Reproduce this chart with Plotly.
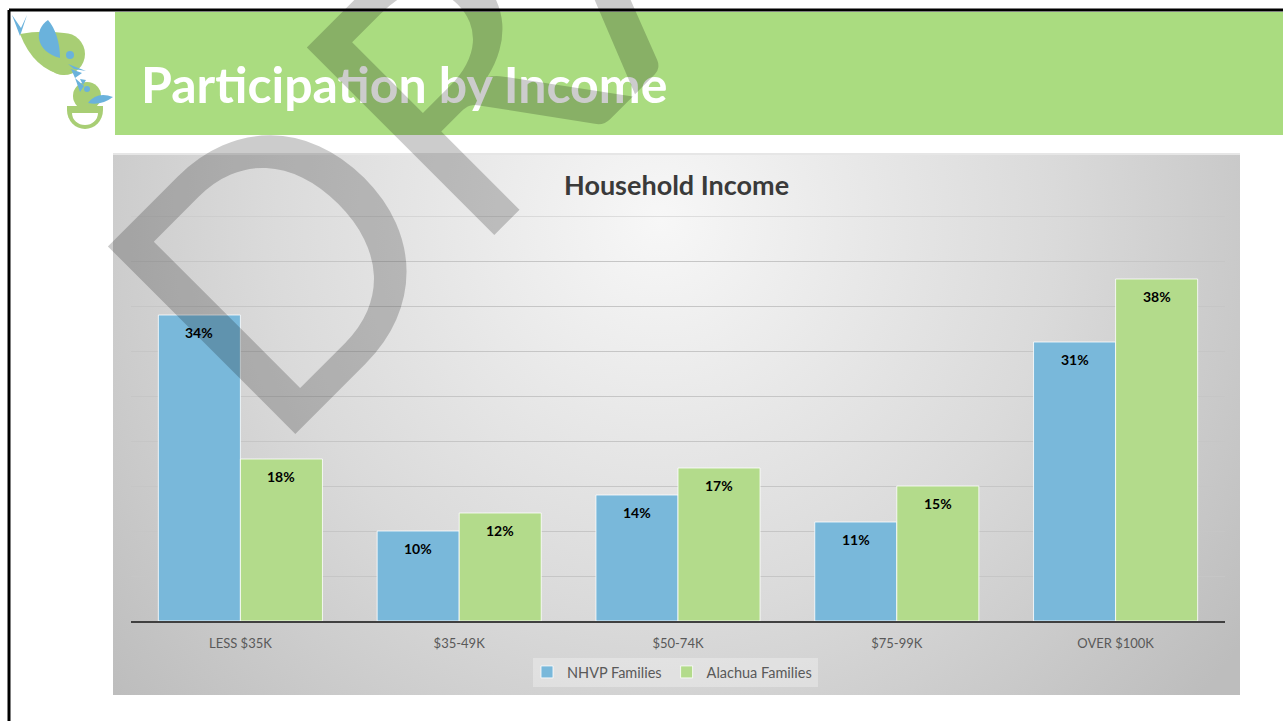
import base64
import plotly.graph_objects as go

# ---------------- data ----------------
categories = ["LESS $35K", "$35-49K", "$50-74K", "$75-99K", "OVER $100K"]
nhvp_values = [34, 10, 14, 11, 31]
alachua_values = [18, 12, 17, 15, 38]
nhvp_labels = ["34%", "10%", "14%", "11%", "31%"]
alachua_labels = ["18%", "12%", "17%", "15%", "38%"]
series_names = ["NHVP Families", "Alachua Families"]

# ---------------- geometry ----------------
W, H = 1283, 721
L, R, T, B = 131, 58, 216, 100
PW, PH = W - L - R, H - T - B
BASE_Y = H - B


def px(xp, yp):
    return (xp - L) / PW, (BASE_Y - yp) / PH


BLUE = "#79B8DA"
GREEN = "#B3DB8B"
FONT = "Lato"

fig = go.Figure()
fig.add_trace(go.Bar(x=categories, y=nhvp_values, name=series_names[0],
                     marker=dict(color=BLUE, line=dict(color="rgba(255,255,255,0.8)", width=1)),
                     hoverinfo="skip"))
fig.add_trace(go.Bar(x=categories, y=alachua_values, name=series_names[1],
                     marker=dict(color=GREEN, line=dict(color="rgba(255,255,255,0.8)", width=1)),
                     hoverinfo="skip"))

annotations = []
for i, c in enumerate(categories):
    annotations.append(dict(x=c, y=nhvp_values[i], xref="x", yref="y", text="<b>" + nhvp_labels[i] + "</b>",
                            showarrow=False, xshift=-41, yshift=-17, xanchor="center", yanchor="middle",
                            font=dict(family=FONT, size=14, color="#000000")))
    annotations.append(dict(x=c, y=alachua_values[i], xref="x", yref="y", text="<b>" + alachua_labels[i] + "</b>",
                            showarrow=False, xshift=41, yshift=-17, xanchor="center", yanchor="middle",
                            font=dict(family=FONT, size=14, color="#000000")))

# chart title
tx, ty = px(676, 184)
annotations.append(dict(x=tx, y=ty, xref="paper", yref="paper", text="<b>Household Income</b>",
                        showarrow=False, xanchor="center", yanchor="middle",
                        font=dict(family=FONT, size=27, color="#3A3A3A")))
# slide title
sx, sy = px(139, 84)
annotations.append(dict(x=sx, y=sy, xref="paper", yref="paper", text="<b>Participation by Income</b>",
                        showarrow=False, xanchor="left", yanchor="middle",
                        font=dict(family=FONT, size=50, color="#FFFFFF")))
# watermark
wx, wy = px(591, -64)
annotations.append(dict(x=wx, y=wy, xref="paper", yref="paper", text="DRAFT", textangle=-45,
                        showarrow=False, xanchor="center", yanchor="middle",
                        font=dict(family=FONT, size=370, color="rgba(0,0,0,0.2)")))

shapes = []
# header band
x0, y0 = px(115, 12)
x1, y1 = px(1283, 135)
shapes.append(dict(type="rect", xref="paper", yref="paper", x0=x0, y0=y0, x1=x1, y1=y1,
                   fillcolor="#AADC80", line=dict(width=0), layer="below"))
# legend background
x0, y0 = px(533, 658)
x1, y1 = px(818, 687)
shapes.append(dict(type="rect", xref="paper", yref="paper", x0=x0, y0=y0, x1=x1, y1=y1,
                   fillcolor="rgba(255,255,255,0.3)", line=dict(width=0), layer="below"))
# top gridline (45%)
shapes.append(dict(type="line", xref="paper", yref="y", x0=0, x1=1, y0=45, y1=45,
                   line=dict(color="#C6C6C6", width=1), layer="below"))
# slide border lines
x0, y0 = px(9, 10)
x1, y1 = px(1283, 10)
shapes.append(dict(type="line", xref="paper", yref="paper", x0=x0, y0=y0, x1=x1, y1=y1,
                   line=dict(color="#000000", width=3)))
x0, y0 = px(9, 10)
x1, y1 = px(9, 721)
shapes.append(dict(type="line", xref="paper", yref="paper", x0=x0, y0=y0, x1=x1, y1=y1,
                   line=dict(color="#000000", width=3)))

# background decoration: chart gradient + logo
svg = f'''<svg xmlns="http://www.w3.org/2000/svg" width="{W}" height="{H}" viewBox="0 0 {W} {H}">
<defs>
<radialGradient id="g" gradientUnits="userSpaceOnUse" cx="660" cy="220" r="720">
<stop offset="0" stop-color="#F7F7F7"/>
<stop offset="0.55" stop-color="#DADADA"/>
<stop offset="1" stop-color="#BDBDBD"/>
</radialGradient>
</defs>
<rect x="113" y="153" width="1127" height="542" fill="url(#g)"/>
<rect x="113" y="153" width="1127" height="2" fill="#E6E6E6"/>
<g>
<path d="M12,15 L20,36 L27,15 L21,28 Z" fill="#6AB2DC"/>
<path d="M20,34 Q34,70 64,75 L64,33 Q40,30 20,34 Z" fill="#A8CE74"/>
<circle cx="64" cy="54" r="21" fill="#A8CE74"/>
<path d="M48,20 C33,30 36,52 60,58 C60,42 55,28 48,20 Z" fill="#6AB2DC"/>
<circle cx="70" cy="55" r="4" fill="#6AB2DC"/>
<path d="M68,64 L86,71 L74,69 Z" fill="#6AB2DC"/>
<path d="M71,69 L82,73 L75,78 Z" fill="#6AB2DC"/>
<circle cx="87" cy="96" r="14" fill="#A8CE74"/>
<path d="M75,78 L80,92 L84,86 Z" fill="#6AB2DC"/>
<path d="M80,79 L83,85 L86,80 Z" fill="#6AB2DC"/>
<circle cx="87" cy="89" r="3" fill="#6AB2DC"/>
<path d="M88,103 Q97,91 113,97 Q101,106 88,103 Z" fill="#6AB2DC"/>
<path d="M67,106 L103,106 L103,110 A18,19 0 0 1 67,110 Z" fill="#A8CE74"/>
<path d="M72,113 L98,113 A13,12 0 0 1 72,113 Z" fill="#FFFFFF"/>
</g>
</svg>'''
src = "data:image/svg+xml;base64," + base64.b64encode(svg.encode()).decode()

fig.update_layout(
    width=W, height=H,
    margin=dict(l=L, r=R, t=T, b=B, pad=0),
    paper_bgcolor="#FFFFFF",
    plot_bgcolor="rgba(0,0,0,0)",
    barmode="group", bargap=0.25, bargroupgap=0,
    showlegend=True,
    legend=dict(orientation="h", x=(672 - L) / PW, xanchor="center", y=-(672 - BASE_Y) / PH, yanchor="middle",
                bgcolor="rgba(0,0,0,0)", font=dict(family=FONT, size=14.5, color="#595959"),
                itemwidth=30, itemclick=False, itemdoubleclick=False),
    xaxis=dict(showline=True, linecolor="#404040", linewidth=2, ticks="", showgrid=False,
               ticklabelstandoff=9,
               tickfont=dict(family=FONT, size=13, color="#595959"), fixedrange=True),
    yaxis=dict(range=[0, 45], dtick=5, showticklabels=False, showgrid=True, gridcolor="#C6C6C6",
               gridwidth=1, zeroline=False, showline=False, fixedrange=True),
    shapes=shapes,
    annotations=annotations,
    images=[dict(source=src, xref="paper", yref="paper", x=-L / PW, y=1 + T / PH,
                 sizex=W / PW, sizey=H / PH, xanchor="left", yanchor="top",
                 sizing="stretch", layer="below")],
)

fig.write_html("out.html", config=dict(displayModeBar=False))
